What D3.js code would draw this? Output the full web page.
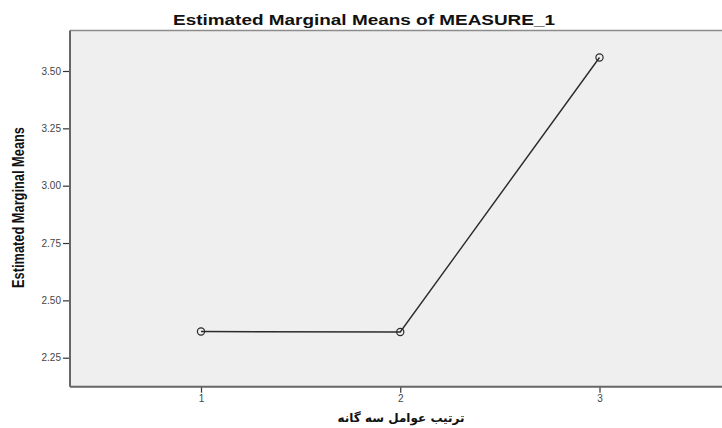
<!DOCTYPE html>
<html>
<head>
<meta charset="utf-8">
<title>Estimated Marginal Means</title>
<script src="https://d3js.org/d3.v7.min.js"></script>
<style>
  body { margin: 0; background: #fff; }
  svg { display: block; }
</style>
</head>
<body>
<div id="chart"></div>
<script>
// data
var levels = [1, 2, 3];
var means = [2.364, 2.362, 3.559];
var yTicks = [2.25, 2.50, 2.75, 3.00, 3.25, 3.50];

var width = 722, height = 428;
var box = { left: 70, top: 30.5, right: 740, bottom: 386.7 };

var svg = d3.select("#chart").append("svg")
  .attr("width", width)
  .attr("height", height);

var x = d3.scaleLinear().domain([1, 3]).range([201, 599.5]);
var y = d3.scaleLinear().domain([2.25, 3.5]).range([357.7, 71]);

// plot area
svg.append("rect")
  .attr("x", box.left).attr("y", box.top)
  .attr("width", box.right - box.left).attr("height", box.bottom - box.top)
  .attr("fill", "#efefef");

svg.append("line")
  .attr("x1", box.left).attr("x2", box.right)
  .attr("y1", box.top).attr("y2", box.top)
  .attr("stroke", "#8c8c8c").attr("stroke-width", 1.5);

// axes
var yAxis = svg.append("g")
  .attr("transform", "translate(" + box.left + ",0)")
  .call(d3.axisLeft(y).tickValues(yTicks).tickFormat(d3.format(".2f")).tickSize(7).tickPadding(2));

var xAxis = svg.append("g")
  .attr("transform", "translate(0," + box.bottom + ")")
  .call(d3.axisBottom(x).tickValues(levels).tickFormat(d3.format("d")).tickSize(6).tickPadding(2));

[yAxis, xAxis].forEach(function (g) {
  g.select(".domain").remove();
  g.selectAll(".tick line").attr("stroke", "#333").attr("stroke-width", 1.2);
  g.selectAll(".tick text")
    .attr("fill", "#444")
    .style("font-family", "Liberation Sans, Arial, sans-serif")
    .style("font-size", "10px");
});

svg.append("line")
  .attr("x1", box.left).attr("x2", box.left)
  .attr("y1", box.top).attr("y2", box.bottom)
  .attr("stroke", "#666").attr("stroke-width", 2);
svg.append("line")
  .attr("x1", box.left).attr("x2", box.right)
  .attr("y1", box.bottom).attr("y2", box.bottom)
  .attr("stroke", "#666").attr("stroke-width", 2);

// line + markers
var pts = levels.map(function (l, i) { return { x: l, y: means[i] }; });

svg.append("path")
  .datum(pts)
  .attr("fill", "none")
  .attr("stroke", "#2b2b2b")
  .attr("stroke-width", 1.4)
  .attr("d", d3.line().x(function (d) { return x(d.x); }).y(function (d) { return y(d.y); }));

svg.selectAll("circle.pt")
  .data(pts)
  .enter().append("circle")
  .attr("class", "pt")
  .attr("cx", function (d) { return x(d.x); })
  .attr("cy", function (d) { return y(d.y); })
  .attr("r", 3.6)
  .attr("fill", "none")
  .attr("stroke", "#2b2b2b")
  .attr("stroke-width", 1.2);

// titles
svg.append("text")
  .attr("x", 364).attr("y", 25)
  .attr("text-anchor", "middle")
  .attr("textLength", 382)
  .attr("lengthAdjust", "spacingAndGlyphs")
  .style("font-family", "Liberation Sans, Arial, sans-serif")
  .style("font-weight", "bold")
  .style("font-size", "15px")
  .attr("fill", "#111")
  .text("Estimated Marginal Means of MEASURE_1");

svg.append("text")
  .attr("transform", "translate(23.5,207.5) rotate(-90)")
  .attr("text-anchor", "middle")
  .attr("textLength", 161)
  .attr("lengthAdjust", "spacingAndGlyphs")
  .style("font-family", "Liberation Sans Narrow, Arial Narrow, Liberation Sans, sans-serif")
  .style("font-weight", "bold")
  .style("font-size", "17px")
  .attr("fill", "#111")
  .text("Estimated Marginal Means");

svg.append("text")
  .attr("x", 401).attr("y", 422)
  .attr("text-anchor", "middle")
  .attr("direction", "rtl")
  .style("font-family", "DejaVu Sans, Noto Sans, sans-serif")
  .style("font-weight", "bold")
  .style("font-size", "12px")
  .attr("fill", "#111")
  .text("ترتیب عوامل سه گانه");
</script>
</body>
</html>
